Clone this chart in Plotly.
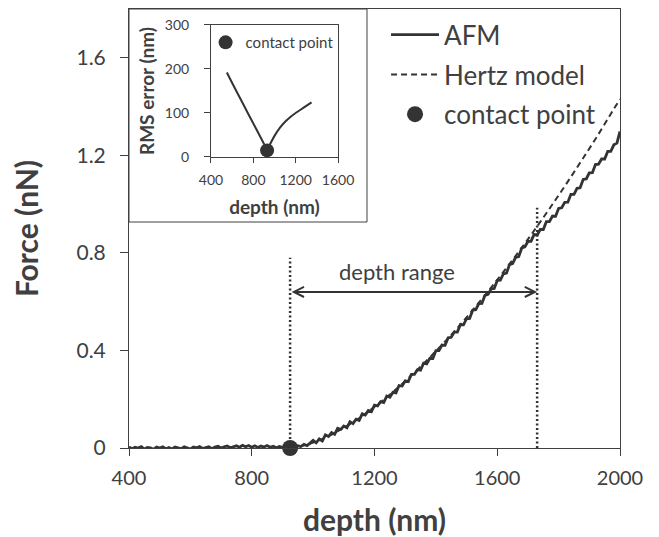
import plotly.graph_objects as go

# ---------------- data ----------------
afm_start = 400
afm_step = 10
afm_force = [
    0.004, -0.003, 0.003, 0.000, 0.006, -0.004, 0.002, 0.001, -0.005, 0.004,   # 400-490
    0.000, 0.005, -0.003, 0.002, -0.004, 0.004, 0.001, -0.003, 0.005, 0.000,   # 500-590
    -0.004, 0.004, 0.001, 0.006, -0.002, 0.002, 0.005, -0.003, 0.004, 0.007,   # 600-690
    0.000, 0.005, 0.008, 0.001, 0.006, 0.009, 0.003, 0.011, 0.005, 0.010,      # 700-790
    0.003, 0.009, 0.002, 0.008, 0.004, 0.010, 0.003, 0.007, 0.001, 0.006,      # 800-890
    0.003, 0.001, 0.004, 0.004, 0.003, 0.009, 0.006, 0.015, 0.010, 0.020,      # 900-990
    0.031, 0.021, 0.037, 0.029, 0.054, 0.047, 0.063, 0.056, 0.081, 0.076,      # 1000-1090
    0.090, 0.083, 0.108, 0.100, 0.118, 0.113, 0.140, 0.135, 0.154, 0.149,      # 1100-1190
    0.176, 0.173, 0.190, 0.186, 0.213, 0.208, 0.228, 0.226, 0.256, 0.254,      # 1200-1290
    0.275, 0.272, 0.302, 0.302, 0.321, 0.319, 0.348, 0.345, 0.367, 0.367,      # 1300-1390
    0.399, 0.399, 0.422, 0.421, 0.452, 0.454, 0.475, 0.475, 0.506, 0.505,      # 1400-1490
    0.530, 0.531, 0.565, 0.567, 0.592, 0.593, 0.626, 0.630, 0.652, 0.654,      # 1500-1590
    0.687, 0.688, 0.714, 0.717, 0.752, 0.756, 0.782, 0.785, 0.820, 0.825,      # 1600-1690
    0.847, 0.847, 0.876, 0.873, 0.896, 0.896, 0.928, 0.928, 0.951, 0.950,      # 1700-1790
    0.982, 0.985, 1.007, 1.008, 1.040, 1.040, 1.065, 1.067, 1.101, 1.103,      # 1800-1890
    1.128, 1.129, 1.162, 1.164, 1.185, 1.185, 1.216, 1.216, 1.243, 1.250,      # 1900-1990
    1.298,                                                                      # 2000
]
afm_depth = [afm_start + afm_step * i for i in range(len(afm_force))]

hertz_depth = [925, 975, 1025, 1075, 1125, 1175, 1225, 1275, 1325, 1375, 1425, 1475,
               1525, 1575, 1625, 1675, 1725, 1775, 1825, 1875, 1925, 1975, 2000]
hertz_force = [0.0, 0.012, 0.034, 0.065, 0.102, 0.145, 0.193, 0.246, 0.303, 0.365, 0.430, 0.499,
               0.573, 0.650, 0.730, 0.813, 0.900, 0.990, 1.083, 1.179, 1.277, 1.380, 1.430]

contact_depth = [925]
contact_force = [0.0]

range_start = 925
range_end = 1730
range_marker_tops = [0.78, 0.985]   # heights of the dotted markers at start / end
arrow_level = 0.64

rms_depth = [550, 600, 700, 800, 900, 930, 960, 1000, 1050, 1100, 1150, 1200, 1250, 1300, 1350]
rms_error = [192, 168, 122, 76, 30, 15, 30, 48, 66, 80, 91, 100, 108, 116, 124]
rms_contact_depth = [930]
rms_contact_error = [15]

main_x_ticks = [400, 800, 1200, 1600, 2000]
main_y_ticks = [0, 0.4, 0.8, 1.2, 1.6]
main_y_labels = ["0", "0.4", "0.8", "1.2", "1.6"]
inset_x_ticks = [400, 800, 1200, 1600]
inset_y_ticks = [0, 100, 200, 300]

# ---------------- figure ----------------
DARK = "#333333"
TXT = "#404040"
FONT = "Lato"

fig = go.Figure()

fig.add_trace(go.Scatter(
    x=hertz_depth, y=hertz_force, mode="lines", name="Hertz model",
    line=dict(color=DARK, width=2, dash="6px,4px", shape="spline"),
    legendrank=2, legendgroup="h", legend="legend",
))
fig.add_trace(go.Scatter(
    x=afm_depth, y=afm_force, mode="lines", name="AFM",
    line=dict(color=DARK, width=2.8),
    legendrank=1, legendgroup="a", legend="legend",
))
# dotted markers delimiting the fitted depth range
for xv, top in zip([range_start, range_end], range_marker_tops):
    fig.add_trace(go.Scatter(
        x=[xv, xv], y=[0, top], mode="lines", showlegend=False,
        line=dict(color=DARK, width=2.5, dash="2px,2.5px"),
        hoverinfo="skip",
    ))
fig.add_trace(go.Scatter(
    x=contact_depth, y=contact_force, mode="markers", name="contact point",
    marker=dict(color=DARK, size=16),
    legendrank=3, legendgroup="c", legend="legend",
    cliponaxis=False,
))

# inset
fig.add_trace(go.Scatter(
    x=rms_depth, y=rms_error, mode="lines", showlegend=False,
    line=dict(color=DARK, width=2, shape="spline", smoothing=0.4),
    xaxis="x2", yaxis="y2",
))
fig.add_trace(go.Scatter(
    x=rms_contact_depth, y=rms_contact_error, mode="markers", name="contact point",
    marker=dict(color=DARK, size=14), xaxis="x2", yaxis="y2", legend="legend2",
    cliponaxis=False,
))

axis_common = dict(
    showline=True, linecolor=TXT, linewidth=1, mirror=True, automargin=False,
    showgrid=False, zeroline=False, ticks="outside", tickcolor=TXT,
)

fig.update_layout(
    width=651, height=529,
    margin=dict(l=121, r=39, t=1, b=89),
    paper_bgcolor="white", plot_bgcolor="rgba(0,0,0,0)",
    font=dict(family=FONT, color=TXT),
    xaxis=dict(
        **axis_common, range=[400, 2000], tickvals=main_x_ticks, ticklen=7,
        ticklabelstandoff=5, tickfont=dict(size=20, color=TXT),
        title=dict(text="depth (nm)", font=dict(size=30, weight="bold", color=TXT), standoff=21),
    ),
    yaxis=dict(
        **axis_common, range=[0, 1.8], tickvals=main_y_ticks, ticktext=main_y_labels, ticklen=8,
        ticklabelstandoff=10, tickfont=dict(size=21, color=TXT),
        title=dict(text="Force (nN)", font=dict(size=30, weight="bold", color=TXT), standoff=39),
    ),
    xaxis2=dict(
        **axis_common, domain=[0.167, 0.4257], anchor="y2", range=[400, 1600],
        tickvals=inset_x_ticks, ticklen=5, ticklabelstandoff=5, tickfont=dict(size=14, color=TXT),
        title=dict(text="depth (nm)", font=dict(size=19, weight="bold", color=TXT), standoff=13),
    ),
    yaxis2=dict(
        **axis_common, domain=[0.6629, 0.9636], anchor="x2", range=[0, 300],
        tickvals=inset_y_ticks, ticklen=6, ticklabelstandoff=12, tickfont=dict(size=14, color=TXT),
        title=dict(text="RMS error (nm)", font=dict(size=19, weight="bold", color=TXT), standoff=5),
    ),
    legend=dict(
        x=0.5235, y=0.995, xanchor="left", yanchor="top",
        bgcolor="rgba(0,0,0,0)", font=dict(size=26, color=TXT, family=FONT),
        tracegroupgap=3, itemwidth=48,
    ),
    legend2=dict(
        x=0.156, y=0.961, xanchor="left", yanchor="top",
        bgcolor="rgba(0,0,0,0)", font=dict(size=15, color=TXT, family=FONT),
        itemwidth=30,
    ),
    shapes=[
        dict(type="rect", xref="paper", yref="paper", x0=0, x1=0.4847, y0=0.5148, y1=1,
             fillcolor="white", line=dict(color=TXT, width=1), layer="below"),
    ],
    annotations=[
        dict(x=range_end, y=arrow_level, ax=range_start, ay=arrow_level,
             xref="x", yref="y", axref="x", ayref="y", text="", showarrow=True,
             arrowhead=5, startarrowhead=5, arrowside="end+start",
             arrowwidth=2, arrowsize=1, startarrowsize=1, arrowcolor=DARK),
        dict(x=(range_start + range_end) / 2 - 55, y=arrow_level + 0.085, xref="x", yref="y",
             text="depth range", showarrow=False, font=dict(size=22, color=TXT, family=FONT)),
    ],
)

fig.write_html("out.html")
